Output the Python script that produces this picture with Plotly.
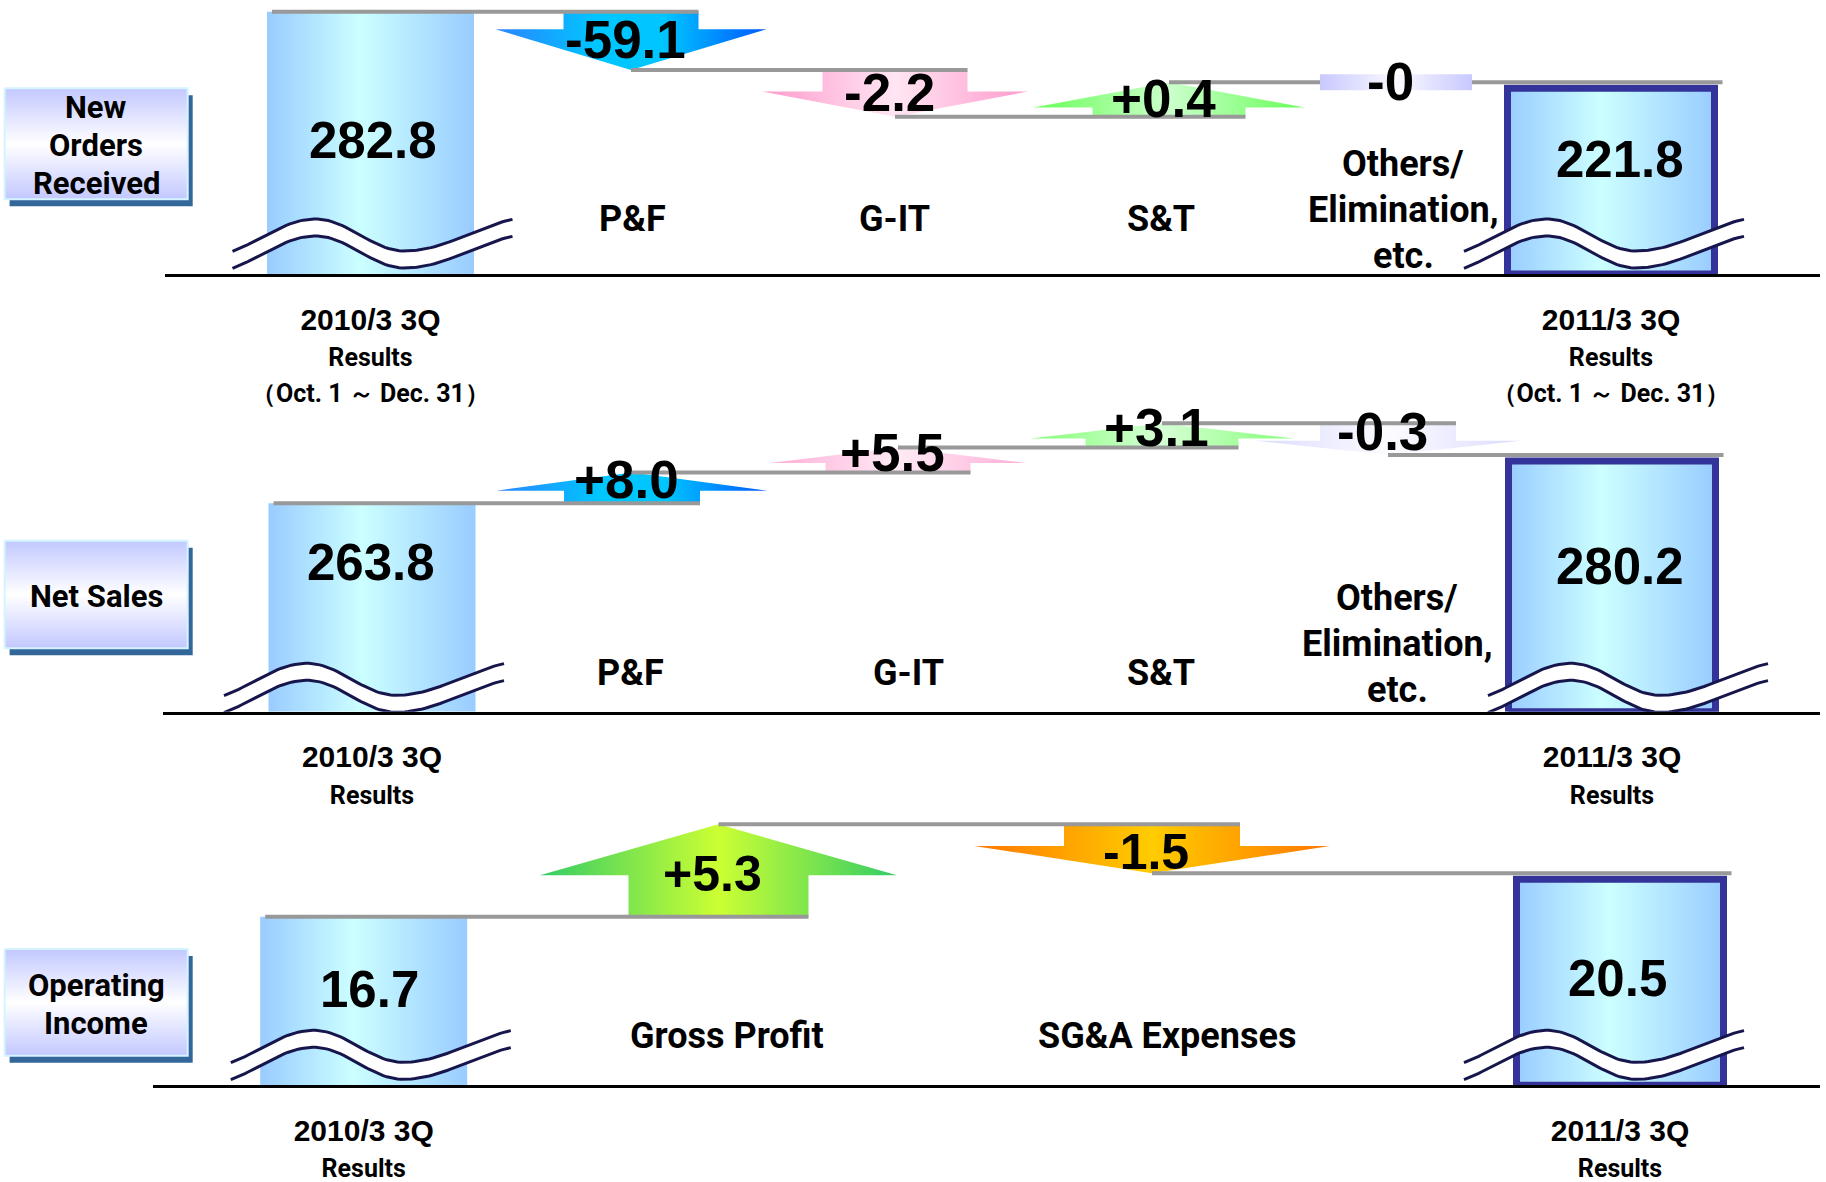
import math
import numpy as np
import plotly.graph_objects as go

W, H = 1826, 1182

# ------------------------------------------------------------------ data
metric_names = ["New<br>Orders<br>Received", "Net Sales", "Operating<br>Income"]
period_start = "2010/3 3Q"
period_end = "2011/3 3Q"
period_result = "Results"
period_note = "（Oct. 1 ～ Dec. 31）"

orders_start = 282.8
orders_end = 221.8
orders_cats = ["P&F", "G-IT", "S&T", "Others/<br>Elimination,<br>etc."]
orders_delta = [-59.1, -2.2, 0.4, -0.0]

sales_start = 263.8
sales_end = 280.2
sales_cats = ["P&F", "G-IT", "S&T", "Others/<br>Elimination,<br>etc."]
sales_delta = [8.0, 5.5, 3.1, -0.3]

oi_start = 16.7
oi_end = 20.5
oi_cats = ["Gross Profit", "SG&A Expenses"]
oi_delta = [5.3, -1.5]

# ------------------------------------------------------------------ styles / layout (pixels)
NARROW = "Roboto, Liberation Sans, sans-serif"
SANS = "Liberation Sans, Arial, DejaVu Sans, sans-serif"

GRADS = {
    "blue": [[0, "#2A84FF"], [0.38, "#00C6FF"], [0.62, "#00C6FF"], [1, "#0058FF"]],
    "pink": [[0, "#FF99CC"], [0.5, "#FFE6F3"], [1, "#FF99CC"]],
    "green": [[0, "#66FF55"], [0.5, "#CCFFCC"], [1, "#66FF55"]],
    "lavender": [[0, "#C8C8FF"], [0.5, "#FAFAFF"], [1, "#C8C8FF"]],
    "lime": [[0, "#33CC66"], [0.5, "#CCFF33"], [1, "#33CC66"]],
    "orange": [[0, "#FF7700"], [0.5, "#FFCC00"], [1, "#FF7700"]],
}
BAR_GRAD = [[0, "#99CCFF"], [0.45, "#CCFFFF"], [1, "#99CCFF"]]
BOX_GRAD = [[0, "#C2C8FF"], [0.5, "#FFFFFF"], [1, "#C2C8FF"]]

panels = [
    dict(start=orders_start, end=orders_end, deltas=orders_delta, cats=orders_cats,
         name=metric_names[0], note=True,
         base_px=274.0, top_px=0.0, floor=56.1, ppu=1.157, x_left=165, x_right=1820,
         bar_x=[370.5, 1611], bar_w=207,
         arrow_x=[631, 895, 1169, 1396], stem_w=[135, 145, 153, 152], head_w=[271, 266, 271, 266],
         arrow_h=[58.3, 46.7, 34.4, 0], stem_frac=[0.30, 0.46, 0.27, 0.5],
         colors=["blue", "pink", "green", "lavender"], fade=[1, 1, 1, 1],
         delta_font=(SANS, 53, "bold"), delta_dy=1,
         cat_x=[632, 894, 1161, 1403], cat_y=[219, 219, 219, 210],
         val_xy=[(373, 141), (1620, 159)],
         wave_x=[232.5, 1464], wave_dy=0,
         box=(88.3, 199.3)),
    dict(start=sales_start, end=sales_end, deltas=sales_delta, cats=sales_cats,
         name=metric_names[1], note=False,
         base_px=711.7, top_px=395.0, floor=193.0, ppu=2.945, x_left=163, x_right=1820,
         bar_x=[372, 1612], bar_w=207,
         arrow_x=[632, 898, 1162, 1388], stem_w=[136, 145, 153, 136], head_w=[271, 257, 264, 266],
         arrow_h=[30.6, 25.0, 24.3, None], stem_frac=[0.41, 0.38, 0.37, 0.55],
         colors=["blue", "pink", "green", "lavender"], fade=[1, 0.8, 0.8, 0.65],
         delta_font=(SANS, 53, "bold"), delta_dy=8,
         cat_x=[630, 908, 1161, 1397], cat_y=[673, 673, 673, 644],
         val_xy=[(371, 562), (1620, 567)],
         wave_x=[224, 1488], wave_dy=6.6,
         box=(540.7, 648.3)),
    dict(start=oi_start, end=oi_end, deltas=oi_delta, cats=oi_cats,
         name=metric_names[2], note=False,
         base_px=1085.3, top_px=795.0, floor=1.94, ppu=11.42, x_left=153, x_right=1820,
         bar_x=[363.7, 1620], bar_w=207,
         arrow_x=[718.5, 1152], stem_w=[180, 176], head_w=[357, 356],
         arrow_h=[92.4, None], stem_frac=[0.45, 0.44],
         colors=["lime", "orange"], fade=[1, 1],
         delta_font=(SANS, 50, "bold"), delta_dy=-3,
         cat_x=[727, 1167], cat_y=[1036, 1036],
         val_xy=[(369, 989), (1617, 978)],
         wave_x=[230.8, 1464], wave_dy=0,
         box=(949.0, 1055.7)),
]


def fmt_delta(v):
    if v == 0:
        return "-0" if math.copysign(1, v) < 0 else "+0"
    return f"{v:+.1f}"


def wave_profile():
    anchors = [(-25, -18), (83, -55), (172, -23), (302, -57)]
    xs = np.linspace(0, 280, 80)
    ys = []
    for x in xs:
        for (xa, ya), (xb, yb) in zip(anchors[:-1], anchors[1:]):
            if xa <= x <= xb:
                t = (x - xa) / (xb - xa)
                ys.append(ya + (yb - ya) * (1 - math.cos(math.pi * t)) / 2)
                break
    return xs, np.array(ys)


WX, WY = wave_profile()

fig = go.Figure()
annotations = []


def poly(xs, ys, xa, ya, grad=None, gtype="horizontal", color=None, line=None, opacity=1.0):
    kw = dict(x=xs, y=ys, xaxis=xa, yaxis=ya, mode="lines", fill="toself",
              hoverinfo="skip", showlegend=False, opacity=opacity)
    if grad is not None:
        kw["fillgradient"] = dict(type=gtype, colorscale=grad)
    else:
        kw["fillcolor"] = color
    kw["line"] = line if line else dict(width=0)
    fig.add_trace(go.Scatter(**kw))


def hline(x0, x1, y, xa, ya):
    fig.add_trace(go.Scatter(x=[x0, x1], y=[y, y], xaxis=xa, yaxis=ya, mode="lines",
                             line=dict(color="#999999", width=4), hoverinfo="skip", showlegend=False))


for i, P in enumerate(panels):
    sfx = "" if i == 0 else str(i + 1)
    xa, ya = "x" + sfx, "y" + sfx
    k, lo = P["ppu"], P["floor"]
    base, top = P["base_px"], P["top_px"]
    hi = lo + (base - top) / k

    def u(px):
        return px / k

    # ---- bars (start / end)
    bw = P["bar_w"]
    for j, (val, cx) in enumerate(zip([P["start"], P["end"]], P["bar_x"])):
        ytop = val if j == 0 else val - u(6)
        line = dict(width=0) if j == 0 else dict(color="#333399", width=7)
        poly([cx - bw / 2, cx + bw / 2, cx + bw / 2, cx - bw / 2, cx - bw / 2],
             [lo, lo, ytop, ytop, lo], xa, ya, grad=BAR_GRAD, line=line)

    # ---- break waves
    for wx0 in P["wave_x"]:
        xs = wx0 + WX
        up = lo - (WY + P["wave_dy"]) / k
        dn = lo - (WY + 17 + P["wave_dy"]) / k
        poly(list(xs) + list(xs[::-1]), list(up) + list(dn[::-1]), xa, ya, color="white")
        for yy in (up, dn):
            fig.add_trace(go.Scatter(x=xs, y=yy, xaxis=xa, yaxis=ya, mode="lines",
                                     line=dict(color="#16164C", width=3),
                                     hoverinfo="skip", showlegend=False))

    # ---- levels
    n = len(P["deltas"])
    lev = [P["start"]]
    for j, d in enumerate(P["deltas"]):
        if d == 0:
            lev.append(lev[-1])
        elif j == n - 1:
            lev.append(P["end"])
        else:
            lev.append(lev[-1] + math.copysign(1, d) * u(P["arrow_h"][j]))

    # ---- arrows (non-zero)
    for j, d in enumerate(P["deltas"]):
        if d == 0:
            continue
        cx, sw, hw = P["arrow_x"][j], P["stem_w"][j], P["head_w"][j]
        y0, y1 = lev[j], lev[j + 1]
        ys_ = y0 + (y1 - y0) * P["stem_frac"][j]
        xs = [cx - sw / 2, cx - sw / 2, cx - hw / 2, cx, cx + hw / 2, cx + sw / 2, cx + sw / 2, cx - sw / 2]
        yv = [y0, ys_, ys_, y1, ys_, ys_, y0, y0]
        poly(xs, yv, xa, ya, grad=GRADS[P["colors"][j]], opacity=P["fade"][j])

    # ---- connectors
    bx0 = P["bar_x"][0]
    hline(bx0 - bw / 2 + 5, P["arrow_x"][0] + P["stem_w"][0] / 2, lev[0], xa, ya)
    for j in range(1, n):
        hline(P["arrow_x"][j - 1], P["arrow_x"][j] + P["stem_w"][j] / 2, lev[j], xa, ya)
    hline(P["arrow_x"][n - 1], P["bar_x"][1] + bw / 2 + 8, P["end"], xa, ya)

    # ---- zero boxes
    for j, d in enumerate(P["deltas"]):
        if d != 0:
            continue
        cx, w = P["arrow_x"][j], P["stem_w"][j]
        y0, y1 = lev[j] - u(8), lev[j] + u(8)
        poly([cx - w / 2, cx + w / 2, cx + w / 2, cx - w / 2, cx - w / 2], [y0, y0, y1, y1, y0],
             xa, ya, grad=GRADS[P["colors"][j]])

    # ---- delta labels
    fam, size, wt = P["delta_font"]
    for j, d in enumerate(P["deltas"]):
        annotations.append(dict(x=P["arrow_x"][j] - 6, y=(lev[j] + lev[j + 1]) / 2, xref=xa, yref=ya,
                                text=fmt_delta(d), showarrow=False, xanchor="center", yanchor="middle",
                                yshift=P["delta_dy"],
                                font=dict(family=fam, size=size, color="black", weight=wt)))

    # ---- bar values
    for val, (tx, ty) in zip([P["start"], P["end"]], P["val_xy"]):
        annotations.append(dict(x=tx / W, y=1 - ty / H, xref="paper", yref="paper", text=f"{val:.1f}",
                                showarrow=False, xanchor="center", yanchor="middle",
                                font=dict(family=SANS, size=51, color="black", weight="bold")))

    # ---- category labels
    for cat, cxp, cyp in zip(P["cats"], P["cat_x"], P["cat_y"]):
        lines = cat.split("<br>")
        for m, t in enumerate(lines):
            yy = cyp + (m - (len(lines) - 1) / 2) * 46
            annotations.append(dict(x=cxp / W, y=1 - yy / H, xref="paper", yref="paper", text=t,
                                    showarrow=False, xanchor="center", yanchor="middle",
                                    font=dict(family=NARROW, size=36, color="black", weight="bold")))

    # ---- metric label box (overlay pixel axes)
    b0, b1 = P["box"]
    poly([9.6, 192.7, 192.7, 9.6, 9.6], [b0 + 7, b0 + 7, b1 + 7, b1 + 7, b0 + 7], "x4", "y4", color="#336699")
    poly([4.6, 187.7, 187.7, 4.6, 4.6], [b0, b0, b1, b1, b0], "x4", "y4", grad=BOX_GRAD, gtype="vertical",
         line=dict(color="#D4F4FF", width=2))
    lines = P["name"].split("<br>")
    for m, t in enumerate(lines):
        yy = (b0 + b1) / 2 + 2 + (m - (len(lines) - 1) / 2) * 38
        annotations.append(dict(x=96 / W, y=1 - yy / H, xref="paper", yref="paper", text=t,
                                showarrow=False, xanchor="center", yanchor="middle",
                                font=dict(family=NARROW, size=31, color="black", weight="bold")))

    # ---- axes
    def tick(period):
        s = (f"<span style='font-family:Liberation Sans;font-size:30px'>{period}</span>"
             f"<br><span style='font-size:25px'>{period_result}</span>")
        if P["note"]:
            s += f"<br><span style='font-size:25px'>{period_note}</span>"
        return s

    fig.update_layout(**{
        "xaxis" + sfx: dict(domain=[P["x_left"] / W, P["x_right"] / W], range=[P["x_left"], P["x_right"]],
                            anchor=ya, showline=True, linecolor="black", linewidth=3, showgrid=False,
                            zeroline=False, tickmode="array", tickvals=P["bar_x"],
                            ticktext=[tick(period_start), tick(period_end)], ticks="",
                            ticklabelstandoff=19, automargin=False,
                            tickfont=dict(family=NARROW, size=28, color="black", weight="bold"),
                            fixedrange=True),
        "yaxis" + sfx: dict(domain=[1 - base / H, 1 - top / H], range=[lo, hi], anchor=xa,
                            visible=False, fixedrange=True, automargin=False),
    })

fig.update_layout(
    xaxis4=dict(domain=[0, 1], range=[0, W], visible=False, anchor="y4", fixedrange=True, automargin=False),
    yaxis4=dict(domain=[0, 1], range=[H, 0], visible=False, anchor="x4", fixedrange=True, automargin=False),
    width=W, height=H, margin=dict(l=0, r=0, t=0, b=0, pad=0), autosize=False,
    paper_bgcolor="white", plot_bgcolor="rgba(0,0,0,0)",
    showlegend=False, annotations=annotations,
)

fig.write_html("out.html", config={"displayModeBar": False})
